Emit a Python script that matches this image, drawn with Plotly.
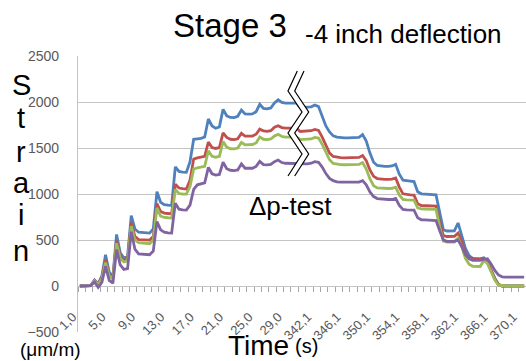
import plotly.graph_objects as go

# ---- data (time categories, strain values in µm/m) ----
time_a = [f"{1.0 + 0.5 * k:.1f}".replace(".", ",") for k in range(60)]
time_b = [f"{340.1 + 0.5 * k:.1f}".replace(".", ",") for k in range(62)]
time_labels = time_a + time_b

blue = [
    0, 0, 0, 5, 65, 25, 110, 340, 150, 100,
    560, 360, 305, 320, 765, 620, 585, 580, 578, 575,
    620, 1025, 910, 885, 878, 875, 1295, 1245, 1238, 1235,
    1350, 1595, 1600, 1605, 1620, 1815, 1740, 1715, 1730, 1920,
    1850, 1832, 1830, 1845, 1912, 1870, 1868, 1870, 1895, 1975,
    1930, 1925, 1935, 1990, 2025, 1995, 1988, 1988, 1988, 1988,
    1940, 1940, 1942, 1948, 1968, 1950, 1845, 1740, 1675, 1632,
    1618, 1612, 1610, 1610, 1610, 1610, 1615, 1645, 1575, 1445,
    1345, 1310, 1302, 1300, 1300, 1305, 1322, 1215, 1150, 1142,
    1140, 1135, 1025, 1002, 1000, 1000, 1000, 990, 800, 612,
    598, 596, 600, 685, 560, 410, 330, 300, 296, 295,
    306, 255, 170, 85, 20, 0, 0, 0, 0, 0,
    0, 0,
]
red = [
    0, 0, 0, 5, 60, 20, 90, 285, 120, 85,
    495, 320, 278, 290, 690, 540, 505, 502, 500, 498,
    540, 895, 810, 792, 788, 785, 1105, 1065, 1058, 1055,
    1150, 1380, 1392, 1398, 1410, 1565, 1505, 1495, 1505, 1665,
    1615, 1595, 1592, 1600, 1660, 1630, 1628, 1630, 1650, 1705,
    1685, 1680, 1688, 1725, 1742, 1722, 1716, 1716, 1716, 1716,
    1680, 1680, 1682, 1688, 1702, 1692, 1618, 1522, 1445, 1408,
    1398, 1395, 1393, 1393, 1393, 1393, 1398, 1418, 1362, 1262,
    1192, 1168, 1162, 1160, 1160, 1162, 1175, 1075, 1002, 993,
    990, 988, 895, 875, 873, 873, 873, 868, 690, 548,
    538, 537, 540, 575, 485, 355, 310, 296, 294, 293,
    302, 270, 170, 80, 15, 0, 0, 0, 0, 0,
    0, 0,
]
green = [
    0, 0, 0, 5, 55, 15, 80, 255, 110, 75,
    465, 300, 262, 272, 650, 500, 470, 465, 462, 460,
    500, 850, 760, 745, 742, 740, 1050, 1005, 1000, 998,
    1080, 1270, 1285, 1290, 1300, 1470, 1410, 1400, 1410, 1570,
    1510, 1492, 1490, 1500, 1560, 1535, 1535, 1538, 1555, 1620,
    1595, 1592, 1598, 1630, 1648, 1625, 1618, 1618, 1618, 1618,
    1592, 1592, 1594, 1598, 1615, 1608, 1540, 1450, 1372, 1332,
    1322, 1320, 1318, 1318, 1318, 1318, 1322, 1342, 1272, 1165,
    1090, 1066, 1062, 1060, 1060, 1062, 1075, 990, 942, 936,
    935, 933, 850, 838, 837, 837, 837, 832, 640, 488,
    476, 475, 478, 522, 430, 300, 238, 214, 212, 212,
    275, 245, 155, 65, 8, 0, 0, 0, 0, 0,
    0, 0,
]
purple = [
    0, 0, 0, 5, 45, -15, 40, 215, 60, 30,
    395, 230, 180, 188, 590, 400, 350, 345, 342, 340,
    380, 700, 610, 585, 578, 575, 900, 835, 828, 825,
    880, 1050, 1100, 1110, 1120, 1290, 1220, 1205, 1212, 1345,
    1275, 1258, 1255, 1262, 1328, 1280, 1277, 1280, 1300, 1355,
    1320, 1316, 1322, 1352, 1369, 1342, 1334, 1333, 1333, 1333,
    1326, 1326, 1328, 1335, 1352, 1345, 1292, 1222, 1170, 1145,
    1132, 1128, 1127, 1127, 1127, 1127, 1130, 1145, 1100, 1022,
    972, 950, 945, 942, 940, 940, 952, 875, 832, 827,
    826, 824, 742, 720, 718, 718, 718, 712, 600, 500,
    486, 484, 485, 500, 430, 340, 295, 280, 277, 278,
    290, 295, 240, 170, 120, 100, 97, 96, 96, 96,
    96, 96,
]
y_ticks = [-500, 0, 500, 1000, 1500, 2000, 2500]

series = [("blue", blue, "#4F81BD"), ("red", red, "#C0504D"),
          ("green", green, "#9BBB59"), ("purple", purple, "#8064A2")]

# ---- geometry helpers (pixel -> paper) ----
W, H = 526, 361
L, R, T, B = 78, 0, 56, 29
PW, PH = W - L - R, H - T - B
def px(x):
    return (x - L) / PW
def py(y):
    return (H - B - y) / PH

n = len(time_labels)
xs = list(range(n))

fig = go.Figure()
for name, vals, col in series:
    fig.add_trace(go.Scatter(x=xs[:len(vals)], y=vals, mode="lines", name=name,
                             line=dict(color=col, width=2.8), showlegend=False))

label_idx = list(range(0, n, 8))
FONT = "Liberation Sans, Arial, sans-serif"
GRID = "#c4c4c4"

fig.update_layout(
    width=W, height=H, margin=dict(l=L, r=R, t=T, b=B),
    paper_bgcolor="white", plot_bgcolor="white",
    font=dict(family=FONT),
    xaxis=dict(
        range=[-0.5, n - 0.5], anchor="free", position=500 / 3000,
        showline=True, linecolor=GRID, linewidth=1.3,
        showgrid=False, zeroline=False, layer="below traces",
        tickmode="array", tickvals=[i + 0.5 for i in label_idx],
        ticktext=[time_labels[i] for i in label_idx],
        tickangle=-45, ticks="outside", ticklen=5, tickcolor="rgba(0,0,0,0)",
        ticklabelshift=-9, ticklabelstandoff=12,
        ticklabeloverflow="allow",
        tickfont=dict(size=13, color="#595959"),
        minor=dict(tickmode="array", tickvals=[k - 0.5 for k in range(0, n + 1, 2)],
                   ticks="outside", ticklen=5, tickcolor="#a6a6a6", tickwidth=1,
                   showgrid=False),
    ),
    yaxis=dict(
        range=[-500, 2500], tickmode="array", tickvals=y_ticks,
        showgrid=True, gridcolor=GRID, gridwidth=1.3,
        showline=True, linecolor=GRID, linewidth=1.3, zeroline=False,
        ticks="", ticklabelstandoff=15,
        tickfont=dict(size=14, color="#595959"),
    ),
)

ann = []
def text(s, x, y, size, anchor="center"):
    ann.append(dict(text=s, x=px(x), y=py(y), xref="paper", yref="paper",
                    xanchor=anchor, yanchor="middle", showarrow=False,
                    font=dict(size=size, color="black", family=FONT)))

text("Stage 3", 171, 26, 33, "left")
text("-4 inch deflection", 303, 34, 26, "left")
text("Δp-test", 290, 206, 26)
for ch, base in zip("Strain", [95, 128, 162, 193, 225, 261]):
    text(ch, 21, base - 10, 29)
text("(μm/m)", 50, 349, 19)
text("Time", 226, 345, 28, "left")
text("(s)", 306, 346, 20)
fig.update_layout(annotations=ann)

# break symbol (double zigzag with white gap)
left_pts = [(297.3, 71), (288, 91), (302, 112), (288, 133), (302, 154), (288, 176)]
gap = 6.7
right_pts = [(x + gap, y) for x, y in left_pts]
def path(pts):
    return "M " + " L ".join(f"{px(x):.5f},{py(y):.5f}" for x, y in pts)
band = path(left_pts + right_pts[::-1]) + " Z"
shapes = [
    dict(type="path", path=band, xref="paper", yref="paper",
         fillcolor="white", line=dict(width=0)),
    dict(type="path", path=path(left_pts), xref="paper", yref="paper",
         line=dict(color="black", width=1.2)),
    dict(type="path", path=path(right_pts), xref="paper", yref="paper",
         line=dict(color="black", width=1.2)),
]
fig.update_layout(shapes=shapes)

fig.write_html("out.html")
